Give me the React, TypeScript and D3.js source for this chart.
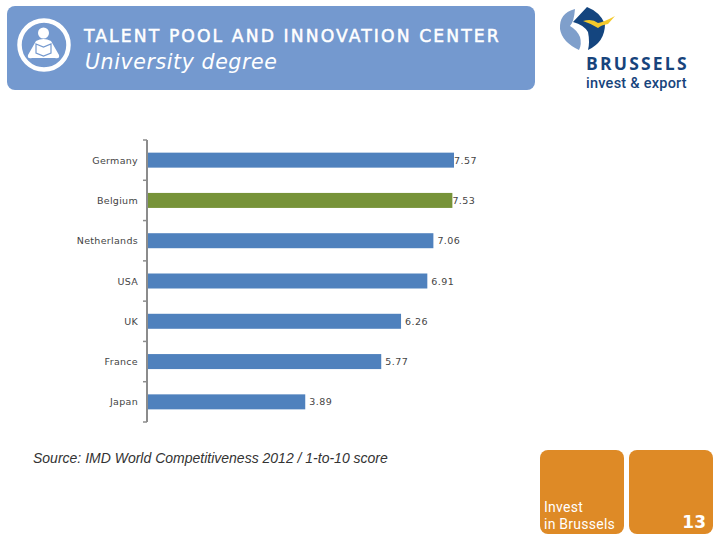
import React from "react";
import * as d3 from "d3";

const categories = ["Germany", "Belgium", "Netherlands", "USA", "UK", "France", "Japan"];
const scores = [7.57, 7.53, 7.06, 6.91, 6.26, 5.77, 3.89];
const highlighted = "Belgium";
const titleText = "TALENT POOL AND INNOVATION CENTER";
const subtitleText = "University degree";
const sourceText = "Source: IMD World Competitiveness 2012 / 1-to-10 score";
const pageNumber = "13";

const x = d3.scaleLinear().domain([0, 7.57]).range([148, 454]);
const y = d3.scaleBand<string>().domain(categories).range([140, 422]);

export default function App() {
  const sans = "'DejaVu Sans', Verdana, sans-serif";
  const ticks = [...categories.map((c) => y(c) as number), 422];
  return (
    <svg width={720} height={540} style={{ position: "absolute", left: 0, top: 0, background: "#fff" }}>
      {/* Header */}
      <rect x={7} y={6} width={528} height={84} rx={8} fill="#7499cf" />
      <circle cx={44} cy={45} r={24.5} fill="none" stroke="#fff" strokeWidth={4.5} />
      <circle cx={43.5} cy={33} r={5.5} fill="#fff" />
      <path d="M36 41 Q43.5 37 51 41 L59 55 Q60 59 55 58 L32 58 Q27 59 28 55 Z" fill="#fff" />
      <path d="M36 44 L43.5 47 L51 44 L51 53 L43.5 56 L36 53 Z" fill="none" stroke="#7499cf" strokeWidth={1.2} />
      <text x={84} y={42} fill="#fff" stroke="#fff" strokeWidth={0.5} fontFamily={sans} fontSize={17.2} letterSpacing={2.1}>{titleText}</text>
      <text x={85} y={69} fill="#fff" fontFamily={sans} fontSize={20.5} fontStyle="italic" letterSpacing={0.6}>{subtitleText}</text>

      {/* Logo */}
      <path d="M575 9 Q559 13 560 29 Q562 42 579 50 Q582 44 580 37 Q577 30 570 26 Q574 22 575 9 Z" fill="#7f9fcb" />
      <path d="M587 7 L573 22 Q584 25 588 32 Q590 42 588 50 Q605 42 605 24 Q600 12 587 7 Z" fill="#14457f" />
      <path d="M583 21 Q592 18 598 23 Q604 22 615 16 L608 24 Q601 25 598 28 Q592 24 583 21 Z" fill="#f4c92c" />
      <text x={586} y={70} fill="#17447c" fontFamily="'Open Sans', sans-serif" fontSize={17.5} fontWeight={700} letterSpacing={2.2}>BRUSSELS</text>
      <text x={586} y={88} fill="#17447c" fontFamily="Roboto, sans-serif" fontSize={14.5} fontWeight={500} letterSpacing={0.25}>invest &amp; export</text>

      {/* Axis */}
      <line x1={147} x2={147} y1={140} y2={422} stroke="#8c8c8c" strokeWidth={2} />
      {ticks.map((t, i) => (
        <line key={i} x1={143} x2={147} y1={t} y2={t} stroke="#8c8c8c" strokeWidth={1.5} />
      ))}

      {/* Bars and labels */}
      {categories.map((c, i) => {
        const cy = (y(c) as number) + y.bandwidth() / 2;
        const offset = scores[i] > 7.5 ? 0 : 4;
        return (
          <g key={c}>
            <rect x={x(0)} y={cy - 7.5} width={x(scores[i]) - x(0)} height={15} fill={c === highlighted ? "#779339" : "#4f81bd"} />
            <text x={138} y={cy + 3.5} textAnchor="end" fill="#444" fontFamily={sans} fontSize={9.5} letterSpacing={0.3}>{c}</text>
            <text x={x(scores[i]) + offset} y={cy + 3.5} fill="#444" fontFamily={sans} fontSize={9.5} letterSpacing={0.45}>{scores[i].toFixed(2)}</text>
          </g>
        );
      })}

      <text x={33} y={463} fill="#333" fontFamily="'Liberation Sans', Arial, sans-serif" fontSize={14} fontStyle="italic">{sourceText}</text>

      {/* Footer */}
      <rect x={540} y={450} width={84} height={84} rx={8} fill="#de8a26" />
      <rect x={629} y={450} width={84} height={84} rx={8} fill="#de8a26" />
      <text x={544} y={512} fill="#fff" fontFamily="Roboto, sans-serif" fontSize={14} letterSpacing={0.25}>Invest</text>
      <text x={544} y={529} fill="#fff" fontFamily="Roboto, sans-serif" fontSize={14} letterSpacing={0.25}>in Brussels</text>
      <text x={706} y={528} textAnchor="end" fill="#fff" fontFamily={sans} fontSize={17} fontWeight={700}>{pageNumber}</text>
    </svg>
  );
}
